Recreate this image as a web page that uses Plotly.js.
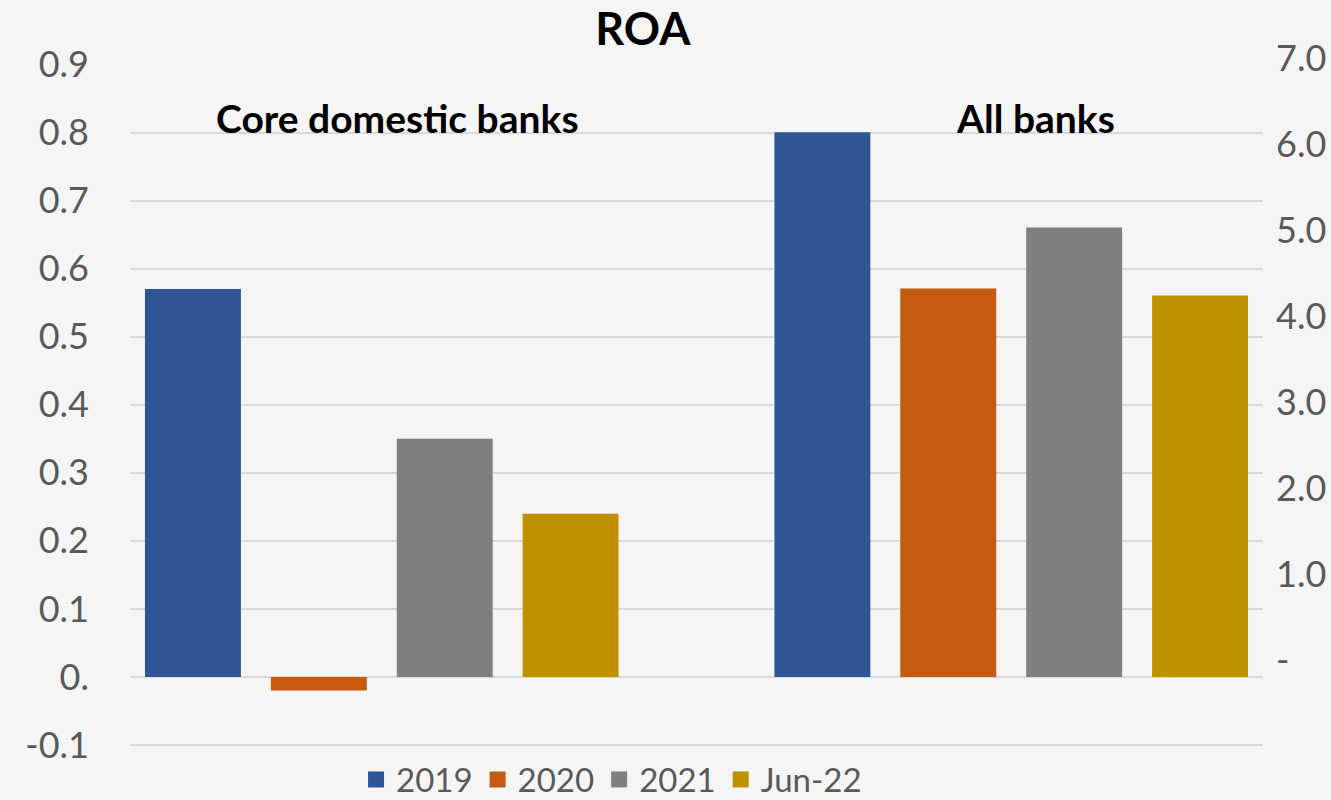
<!DOCTYPE html>
<html><head><meta charset="utf-8">
<script src="https://cdn.plot.ly/plotly-3.0.1.min.js"></script>
<style>html,body{margin:0;padding:0;background:#f5f5f5;}</style>
</head><body>
<div id="chart" style="width:1331px;height:800px;"></div>
<script>
const categories = ["Core domestic banks", "All banks"];
const seriesNames = ["2019", "2020", "2021", "Jun-22"];
const colors = ["#2f5597", "#c55a11", "#7f7f7f", "#bf9000"];
// Core domestic banks (left axis)
const coreValues = [0.57, -0.02, 0.35, 0.24];
// All banks (right axis)
const allValues = [6.34, 4.52, 5.23, 4.44];
const leftTickVals = [-0.1, 0, 0.1, 0.2, 0.3, 0.4, 0.5, 0.6, 0.7, 0.8, 0.9];
const leftTickText = ["-0.1", "0.", "0.1", "0.2", "0.3", "0.4", "0.5", "0.6", "0.7", "0.8", "0.9"];
const rightTickVals = [0, 1, 2, 3, 4, 5, 6, 7];
const rightTickText = ["-", "1.0", "2.0", "3.0", "4.0", "5.0", "6.0", "7.0"];

const FONT = "Lato, 'Open Sans', sans-serif";
const traces = [];
seriesNames.forEach((name, i) => {
  traces.push({type: "bar", x: [categories[0]], y: [coreValues[i]], name: name,
    marker: {color: colors[i]}, offsetgroup: name, alignmentgroup: "g",
    yaxis: "y", showlegend: false, hoverinfo: "x+y+name"});
  traces.push({type: "bar", x: [categories[1]], y: [allValues[i]], name: name,
    marker: {color: colors[i]}, offsetgroup: name, alignmentgroup: "g",
    yaxis: "y2", showlegend: false, hoverinfo: "x+y+name"});
});
seriesNames.forEach((name, i) => {
  traces.push({type: "scatter", mode: "markers", x: [null], y: [null], name: name,
    marker: {symbol: "square", size: 22, color: colors[i]}, showlegend: true});
});

const SCALE = 7.92; // right axis units per left axis unit
const yMin = -0.1044, yMax = 0.9008;
const layout = {
  width: 1331, height: 800,
  paper_bgcolor: "#f5f5f5", plot_bgcolor: "#f5f5f5",
  margin: {l: 130, r: 68, t: 64, b: 52, autoexpand: false},
  barmode: "group", bargap: 0.2, bargroupgap: 0.238,
  title: {text: "<b>ROA</b>", font: {family: FONT, size: 45, color: "#000"},
    x: 0.483, xanchor: "center", y: 0.963, yanchor: "middle"},
  xaxis: {type: "category", range: [-0.4, 1.4], showticklabels: false,
    showgrid: false, zeroline: false, showline: false, ticks: ""},
  yaxis: {range: [yMin, yMax], tickvals: leftTickVals, ticktext: leftTickText,
    showgrid: true, gridcolor: "#d9d9d9", gridwidth: 2, zeroline: false,
    tickfont: {family: FONT, size: 36, color: "#595959"}, ticks: "",
    ticklabelstandoff: 40},
  yaxis2: {overlaying: "y", side: "right", range: [yMin * SCALE, yMax * SCALE],
    tickvals: rightTickVals, ticktext: rightTickText, showgrid: false,
    zeroline: false, ticks: "", ticklabelshift: -17, ticklabelstandoff: 12,
    tickfont: {family: FONT, size: 36, color: "#595959"}},
  legend: {orientation: "h", x: 0.425, xanchor: "center", y: -0.046, yanchor: "middle",
    font: {family: FONT, size: 33, color: "#595959"}, bgcolor: "rgba(0,0,0,0)",
    itemwidth: 30, tracegroupgap: 0},
  annotations: [
    {text: "<b>Core domestic banks</b>", xref: "paper", yref: "paper",
      x: (397 - 130) / 1133, y: (748 - 118) / 684, xanchor: "center", yanchor: "middle",
      showarrow: false, font: {family: FONT, size: 39, color: "#000"}},
    {text: "<b>All banks</b>", xref: "paper", yref: "paper",
      x: (1035 - 130) / 1133, y: (748 - 118) / 684, xanchor: "center", yanchor: "middle",
      showarrow: false, font: {family: FONT, size: 39, color: "#000"}}
  ],
  showlegend: true
};
Plotly.newPlot("chart", traces, layout, {displayModeBar: false, staticPlot: true});
</script>
</body></html>
